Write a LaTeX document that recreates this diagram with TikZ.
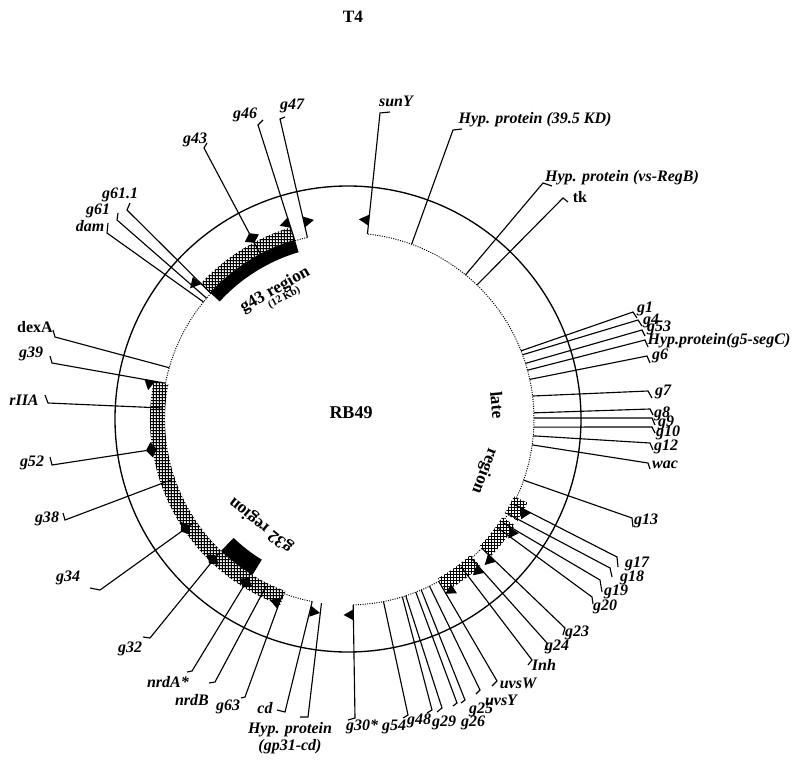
\documentclass[tikz,border=0pt]{standalone}
\usepackage{fontspec}
\setmainfont{Liberation Serif}
\usetikzlibrary{calc,patterns.meta}
\tikzdeclarepattern{name=mesh,type=uncolored,bounding box={(0pt,0pt) and (2.2pt,2.2pt)},tile size={(2.2pt,2.2pt)},code={\draw[line width=0.7pt] (0pt,1.1pt) -- (2.2pt,1.1pt) (1.1pt,0pt) -- (1.1pt,2.2pt);}}
\newcommand\bandfill[5]{\fill[#1] ($(C)+(#2:#4)$) arc[start angle=#2,end angle=#3,radius=#4*0.75pt] -- ($(C)+(#3:#5)$) arc[start angle=#3,end angle=#2,radius=#5*0.75pt] -- cycle;}
\newcommand\dotarc[2]{\draw[dots] ($(C)+(#1:186)$) arc[start angle=#1,end angle=#2,radius=186*0.75pt];}
\newcommand\mktri[3]{\fill ($(C)+({#1}:{#2-5.5})$) -- ($(C)+({#1}:{#2+5.5})$) -- ($(C)+({#1+(#3)*2.9}:{#2})$) -- cycle;}
\newcommand\mkdia[2]{\fill ($(C)+({#1}:{#2-5.5})$) -- ($(C)+({#1+2.2}:{#2})$) -- ($(C)+({#1}:{#2+5.5})$) -- ($(C)+({#1-2.2}:{#2})$) -- cycle;}
\newcommand\gline[4]{\coordinate (s#1) at ($(C)+(#2:186)$); \coordinate (e#1) at #3; \coordinate (h#1) at #4; \draw[ln] (s#1) -- (e#1) -- (h#1);}
\begin{document}
\begin{tikzpicture}[x=0.75pt,y=0.75pt,
  ln/.style={line width=0.85pt},
  lbl/.style={font=\fontsize{12}{13}\selectfont\bfseries\itshape,inner sep=0pt},
  upr/.style={font=\fontsize{12}{13}\selectfont\bfseries,inner sep=0pt},
  hatch/.style={pattern={mesh},pattern color=black},
  dots/.style={line width=0.75pt,dash pattern=on 0.75pt off 1pt}]
\useasboundingbox (0,0) rectangle (800,-767);
\coordinate (C) at (348,-419);
% bands
\bandfill{black}{106.5}{137.5}{174}{187}
\bandfill{hatch}{106.5}{137.5}{187}{200}
\bandfill{hatch}{169}{250}{183}{198}
\bandfill{black}{226.1}{238.5}{165}{183}
\bandfill{hatch}{-60.5}{-48}{183}{198}
\bandfill{hatch}{-44}{-32.5}{183}{198}
\bandfill{hatch}{-31}{-25}{183}{198}
% dotted inner circle
\dotarc{137.5}{169}
\dotarc{102.6}{106.5}
\dotarc{-25}{84}
\dotarc{250}{259}
\dotarc{271.6}{299.5}
\dotarc{-48}{-44}
\dotarc{-32.5}{-31}
% outer circle
\draw[line width=1pt] (C) circle[radius=233*0.75pt];
% leaders
\gline{sunY}{84}{(380,-113)}{(390,-112)}
\gline{hypa}{70}{(453,-130)}{(462,-129)}
\gline{hypb}{50.8}{(543,-183)}{(552,-186)}
\gline{tk}{46.1}{(563,-198)}{(568,-202)}
\gline{ga}{21.5}{(633,-312)}{(637,-318)}
\gline{gb}{20.2}{(638,-320)}{(642,-326)}
\gline{gc}{17.4}{(642,-330)}{(645,-336)}
\gline{gd}{15.2}{(645,-340)}{(648,-347)}
\gline{ge}{12.3}{(647,-356)}{(650,-363)}
\gline{gf}{7.1}{(648,-391)}{(652,-398)}
\gline{gg}{1.9}{(650,-409)}{(653,-415)}
\gline{gh}{0.3}{(652,-418)}{(655,-425)}
\gline{gi}{-2.5}{(652,-427)}{(655,-433)}
\gline{gj}{-5.2}{(650,-443)}{(653,-450)}
\gline{wac}{-8}{(648,-463)}{(650,-469)}
\gline{gk}{-19.2}{(632,-518)}{(633,-527)}
\gline{gl}{-27.2}{(617,-557)}{(618,-567)}
\gline{gm}{-30.7}{(610,-568)}{(612,-577)}
\gline{gn}{-33.8}{(600,-580)}{(602,-592)}
\gline{go}{-36}{(592,-597)}{(593,-604)}
\gline{gp}{-44}{(565,-628)}{(563,-635)}
\gline{gq}{-48.5}{(547,-643)}{(545,-650)}
\gline{inh}{-52.6}{(532,-660)}{(528,-665)}
\gline{uvsW}{-60.8}{(497,-681)}{(492,-686)}
\gline{uvsY}{-64}{(480,-690)}{(476,-694)}
\gline{gr}{-66.8}{(465,-700)}{(461,-703)}
\gline{gs}{-68.6}{(457,-703)}{(453,-706)}
\gline{gt}{-71.9}{(442,-708)}{(437,-712)}
\gline{gu}{-73}{(432,-710)}{(427,-713)}
\gline{gv}{-79}{(408,-715)}{(403,-718)}
\gline{gw}{-88.4}{(355,-718)}{(348,-720)}
\gline{hypc}{261.8}{(308,-717)}{(300,-717)}
\gline{cd}{258.9}{(285,-712)}{(277,-710)}
\gline{gx}{249.5}{(245,-697)}{(241,-698)}
\gline{nrdB}{243.9}{(215,-682)}{(209,-683)}
\gline{nrdA}{238}{(192,-671)}{(187,-672)}
\gline{gy}{226.1}{(150,-638)}{(143,-637)}
\gline{gz}{213.9}{(100,-590)}{(90,-588)}
\gline{g38}{199}{(65,-520)}{(63,-513)}
\gline{g52}{188.9}{(52,-465)}{(50,-457)}
\gline{rIIA}{176.6}{(48,-403)}{(45,-395)}
\gline{g39}{168.9}{(52,-363)}{(50,-356)}
\gline{dexA}{164}{(55,-337)}{(53,-330)}
\gline{dam}{141}{(107,-233)}{(108,-223)}
\gline{g61}{139.5}{(117,-220)}{(118,-213)}
\gline{g611}{137.5}{(127,-210)}{(130,-203)}
\gline{g43}{118}{(204,-148)}{(207,-143)}
\gline{g46}{106.6}{(258,-125)}{(263,-120)}
\gline{g47}{102.6}{(280,-119)}{(285,-117)}
% markers
\mktri{137.5}{205}{1}
\mktri{106.6}{205}{1}
\mktri{102.6}{202}{-1}
\mktri{84}{200}{1}
\mkdia{118}{205}
\mktri{168.9}{202}{1}
\mkdia{188.9}{199}
\mkdia{213.9}{196}
\mkdia{226.1}{195}
\mkdia{238}{193}
\mktri{249.5}{197}{-1}
\mktri{258.9}{196}{1}
\mktri{271.6}{196}{-1}
\mktri{-27.2}{200}{-1}
\mktri{-33.8}{200}{-1}
\mktri{-44}{200}{-1}
\mktri{-48.5}{200}{-1}
\mktri{-58}{200}{-1}
% labels
\node[upr,font=\fontsize{13}{14}\selectfont\bfseries] (title) at (353,-17) {T4};
\node[upr,font=\fontsize{13.5}{15}\selectfont\bfseries] (rb) at (351,-413) {RB49};
\node[lbl] (tsunY) at (396,-101) {sunY};
\node[lbl] (thypa) at (535,-120) {Hyp. protein (39.5 KD)};
\node[lbl] (thypb) at (622,-178) {Hyp. protein (vs-RegB)};
\node[upr] (ttk) at (580,-197) {tk};
\node[lbl] (tga) at (645,-309) {g1};
\node[lbl] (tgb) at (651,-321) {g4};
\node[lbl] (tgc) at (659,-328) {g53};
\node[lbl] (tgd) at (719,-341) {Hyp.protein(g5-segC)};
\node[lbl] (tge) at (660,-356) {g6};
\node[lbl] (tgf) at (663,-392) {g7};
\node[lbl] (tgg) at (662,-414) {g8};
\node[lbl] (tgh) at (666,-423) {g9};
\node[lbl] (tgi) at (668,-433) {g10};
\node[lbl] (tgj) at (666,-447) {g12};
\node[lbl] (twac) at (665,-465) {wac};
\node[lbl] (tgk) at (646,-521) {g13};
\node[lbl] (tgl) at (637,-564) {g17};
\node[lbl] (tgm) at (632,-578) {g18};
\node[lbl] (tgn) at (616,-592) {g19};
\node[lbl] (tgo) at (605,-607) {g20};
\node[lbl] (tgp) at (577,-633) {g23};
\node[lbl] (tgq) at (557,-647) {g24};
\node[lbl] (tinh) at (544,-665) {Inh};
\node[lbl] (tuvsW) at (518,-683) {uvsW};
\node[lbl] (tuvsY) at (501,-700) {uvsY};
\node[lbl] (tgr) at (481,-710) {g25};
\node[lbl] (tgs) at (473,-723) {g26};
\node[lbl] (tgt) at (444,-723) {g29};
\node[lbl] (tgu) at (419,-721) {g48};
\node[lbl] (tgv) at (394,-727) {g54};
\node[lbl] (tgw) at (362,-727) {g30*};
\node[lbl,align=center] (thypc) at (290,-738) {Hyp. protein\\(gp31-cd)};
\node[lbl] (tcd) at (265,-708) {cd};
\node[lbl] (tgx) at (228,-707) {g63};
\node[lbl] (tnrdB) at (192,-700) {nrdB};
\node[lbl] (tnrdA) at (168,-682) {nrdA*};
\node[lbl] (tgy) at (130,-649) {g32};
\node[lbl] (tgz) at (68,-578) {g34};
\node[lbl] (tg38) at (47,-519) {g38};
\node[lbl] (tg52) at (32,-463) {g52};
\node[lbl] (trIIA) at (24,-400) {rIIA};
\node[lbl] (tg39) at (31,-354) {g39};
\node[upr] (tdexA) at (35,-327) {dexA};
\node[lbl] (tdam) at (90,-226) {dam};
\node[lbl] (tg61) at (98,-211) {g61};
\node[lbl] (tg611) at (120,-195) {g61.1};
\node[lbl] (tg43) at (195,-140) {g43};
\node[lbl] (tg46) at (245,-115) {g46};
\node[lbl] (tg47) at (292,-106) {g47};
% region texts
\node[upr,font=\fontsize{13}{14}\selectfont\bfseries,rotate=29.5] (r43) at ($(C)+(119.5:148)$) {g43 region};
\node[upr,font=\fontsize{8}{9}\selectfont\bfseries,rotate=27.7] (r43b) at ($(C)+(117.7:137)$) {(12 Kb)};
\node[upr,font=\fontsize{13}{14}\selectfont\bfseries,rotate=140.6] (r32) at ($(C)+(230.6:137)$) {g32 region};
\node[upr,font=\fontsize{13}{14}\selectfont\bfseries,rotate=-84.6] (rlate) at ($(C)+(5.4:150)$) {late};
\node[upr,font=\fontsize{13}{14}\selectfont\bfseries,rotate=-110.9] (rreg) at ($(C)+(-20.9:146)$) {region};
\end{tikzpicture}
\end{document}
